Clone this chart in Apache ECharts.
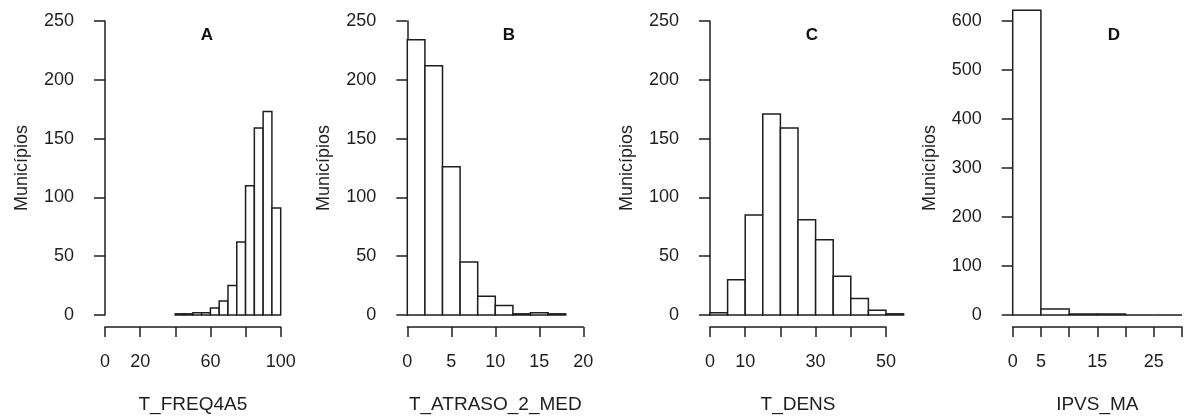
<!DOCTYPE html>
<html>
<head>
<meta charset="utf-8">
<script src="https://cdn.jsdelivr.net/npm/echarts@6/dist/echarts.min.js"></script>
<style>
html,body{margin:0;padding:0;background:#fff;}
#chart{width:1185px;height:419px;}
</style>
</head>
<body>
<div id="chart"></div>
<script>
// ---- Data ----
const panelTitles = ['A', 'B', 'C', 'D'];
const xNames = ['T_FREQ4A5', 'T_ATRASO_2_MED', 'T_DENS', 'IPVS_MA'];
const yName = 'Municípios';

const edgesA = [40, 45, 50, 55, 60, 65, 70, 75, 80, 85, 90, 95, 100];
const countsA = [1, 1, 2, 2, 6, 12, 25, 62, 110, 159, 173, 91];

const edgesB = [0, 2, 4, 6, 8, 10, 12, 14, 16, 18];
const countsB = [234, 212, 126, 45, 16, 8, 1, 2, 1];

const edgesC = [0, 5, 10, 15, 20, 25, 30, 35, 40, 45, 50, 55];
const countsC = [2, 30, 85, 171, 159, 81, 64, 33, 14, 4, 1];

const edgesD = [0, 5, 10, 15, 20, 25, 30];
const countsD = [622, 12, 2, 2, 0, 0];

// tick positions and the labels shown (R drops overlapping ones)
const xTicksA = [0, 20, 40, 60, 80, 100];
const xShownA = ['0', '20', '60', '100'];
const xTicksB = [0, 5, 10, 15, 20];
const xShownB = ['0', '5', '10', '15', '20'];
const xTicksC = [0, 10, 20, 30, 40, 50];
const xShownC = ['0', '10', '30', '50'];
const xTicksD = [0, 5, 10, 15, 20, 25, 30];
const xShownD = ['0', '5', '15', '25'];

const yTicksABC = [0, 50, 100, 150, 200, 250];
const yTicksD = [0, 100, 200, 300, 400, 500, 600];

// ---- Layout ----
const panels = [
  {edges: edgesA, counts: countsA, xt: xTicksA, xs: xShownA, yt: yTicksABC, left: 105, width: 175.7, titleX: 207},
  {edges: edgesB, counts: countsB, xt: xTicksB, xs: xShownB, yt: yTicksABC, left: 407.3, width: 176, titleX: 509},
  {edges: edgesC, counts: countsC, xt: xTicksC, xs: xShownC, yt: yTicksABC, left: 710, width: 176, titleX: 812},
  {edges: edgesD, counts: countsD, xt: xTicksD, xs: xShownD, yt: yTicksD, left: 1012.7, width: 177, titleX: 1114}
];

const FONT = 'Liberation Sans, Arial, sans-serif';
const INK = '#1e1e1e';

const grids = [], xAxes = [], yAxes = [], series = [], graphics = [];
panels.forEach((p, i) => {
  grids.push({left: p.left, top: 21, width: p.width, height: 297, containLabel: false});
  const xmin = p.xt[0], xmax = p.xt[p.xt.length - 1];
  const ymax = p.yt[p.yt.length - 1];
  const xint = p.xt[1] - p.xt[0];
  const yint = p.yt[1] - p.yt[0];
  xAxes.push({
    type: 'value', gridIndex: i, min: xmin, max: xmax, interval: xint,
    position: 'bottom', offset: 12,
    name: xNames[i], nameLocation: 'middle', nameGap: 68,
    nameTextStyle: {fontFamily: FONT, fontSize: 19, color: INK},
    axisLine: {show: true, onZero: false, lineStyle: {color: INK, width: 1.5}},
    axisTick: {show: true, length: 10, lineStyle: {color: INK, width: 1.5}},
    axisLabel: {show: true, margin: 26, fontFamily: FONT, fontSize: 18, color: INK,
      formatter: v => (p.xs.indexOf(String(v)) >= 0 ? String(v) : '')},
    splitLine: {show: false}
  });
  yAxes.push({
    type: 'value', gridIndex: i, min: 0, max: ymax, interval: yint,
    position: 'left', offset: 7,
    name: yName, nameLocation: 'middle', nameGap: 67, nameRotate: 90,
    nameTextStyle: {fontFamily: FONT, fontSize: 18, color: INK},
    axisLine: {show: true, lineStyle: {color: INK, width: 1.5}},
    axisTick: {show: true, length: 11, lineStyle: {color: INK, width: 1.5}},
    axisLabel: {show: true, margin: 24, fontFamily: FONT, fontSize: 18, color: INK},
    splitLine: {show: false}
  });
  const data = p.counts.map((c, k) => [p.edges[k], p.edges[k + 1], c]);
  series.push({
    type: 'custom', xAxisIndex: i, yAxisIndex: i, clip: false,
    data: data,
    renderItem: function (params, api) {
      const x0 = api.value(0), x1 = api.value(1), c = api.value(2);
      const p0 = api.coord([x0, 0]);
      const p1 = api.coord([x1, c]);
      return {
        type: 'rect',
        shape: {x: p0[0], y: p1[1], width: p1[0] - p0[0], height: p0[1] - p1[1]},
        style: {fill: '#fff', stroke: INK, lineWidth: 1.5}
      };
    }
  });
  graphics.push({
    type: 'text', x: p.titleX, y: 35,
    style: {text: panelTitles[i], fontFamily: FONT, fontSize: 17, fontWeight: 'bold',
      fill: '#111', align: 'center', verticalAlign: 'middle'}
  });
});

const chart = echarts.init(document.getElementById('chart'), null, {renderer: 'canvas'});
chart.setOption({
  animation: false,
  backgroundColor: '#fff',
  grid: grids,
  xAxis: xAxes,
  yAxis: yAxes,
  series: series,
  graphic: graphics
});
</script>
</body>
</html>
